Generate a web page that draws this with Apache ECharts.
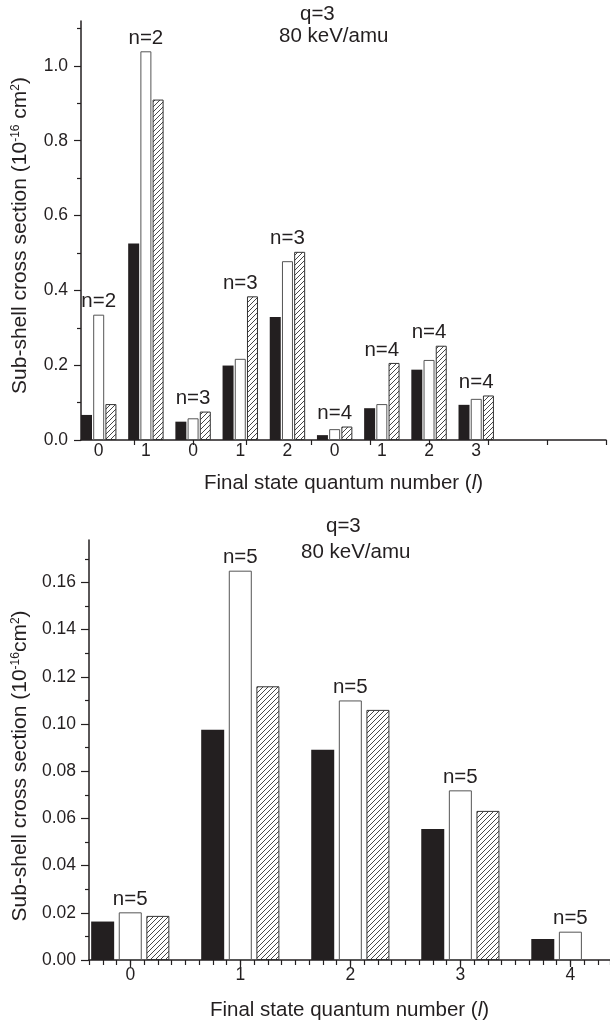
<!DOCTYPE html>
<html><head><meta charset="utf-8">
<script src="https://cdn.jsdelivr.net/npm/echarts@6/dist/echarts.min.js"></script>
<style>html,body{margin:0;padding:0;background:#fff}#c{width:610px;height:1023px}</style>
</head><body><div id="c"></div>
<script>
// ---------- Top panel (n = 2, 3, 4) ----------
const topL = ['0','1','0','1','2','0','1','2','3'];
const topN = ['n=2','n=2','n=3','n=3','n=3','n=4','n=4','n=4','n=4'];
const topX = [0.4,1.2,2.0,2.8,3.6,4.4,5.2,6.0,6.8];
const topBlack   = [0.067,0.525,0.049,0.199,0.329,0.013,0.085,0.188,0.094];
const topOpen    = [0.335,1.039,0.058,0.217,0.478,0.029,0.096,0.214,0.110];
const topHatched = [0.096,0.910,0.076,0.384,0.503,0.036,0.206,0.252,0.119];
const topXTicks  = [1,2,2.9,4,5,6,7,8,9];
const topYMajor  = [0,0.2,0.4,0.6,0.8,1.0];
const topYMinor  = [0.1,0.3,0.5,0.7,0.9,1.1];

// ---------- Bottom panel (n = 5) ----------
const botL = ['0','1','2','3','4'];
const botN = ['n=5','n=5','n=5','n=5','n=5'];
const botX = [0,1,2,3,4];
const botBlack   = [0.0163,0.0976,0.0891,0.0555,0.0089];
const botOpen    = [0.0202,0.165,0.110,0.0719,0.0120];
const botHatched = [0.0187,0.116,0.106,0.0632,null];
const botYMajor  = [0,0.02,0.04,0.06,0.08,0.10,0.12,0.14,0.16];
const botYMinor  = [0.01,0.03,0.05,0.07,0.09,0.11,0.13,0.15,0.17];

const INK = '#231f20';
const FONT = 'Liberation Sans, Arial, sans-serif';
const BIG = 20.5;

function hatchCanvas(){
  const c = document.createElement('canvas'); c.width = 5; c.height = 5;
  const g = c.getContext('2d');
  g.fillStyle = '#fff'; g.fillRect(0,0,5,5);
  g.strokeStyle = '#333'; g.lineWidth = 0.9;
  g.beginPath();
  g.moveTo(0,5); g.lineTo(5,0);
  g.moveTo(-1,1); g.lineTo(1,-1);
  g.moveTo(4,6); g.lineTo(6,4);
  g.stroke();
  return c;
}
const hatch = {image: hatchCanvas(), repeat: 'repeat'};

function idxOf(arr, v){ return arr.findIndex(a => Math.abs(a - v) < 1e-6); }
function pairs(xs, ys){ return xs.map((x,i) => [x, ys[i]]); }

const styles = [
  {color: INK, borderWidth: 0},
  {color: '#fff', borderColor: '#555', borderWidth: 1},
  {color: hatch, borderColor: '#333', borderWidth: 1}
];

function barSeries(xs, sets, xi, yi, w, gap){
  return sets.map((ys, k) => ({
    type: 'bar', xAxisIndex: xi, yAxisIndex: yi, silent: true,
    barWidth: w, barGap: gap, animation: false,
    itemStyle: styles[k],
    data: pairs(xs, ys)
  }));
}

function nSeries(xs, sets, labels, xi, yi){
  const tops = xs.map((x,i) => Math.max(...sets.map(s => s[i] == null ? 0 : s[i])));
  return {
    type: 'scatter', xAxisIndex: xi, yAxisIndex: yi, silent: true, animation: false,
    symbolSize: 1, itemStyle: {color: 'rgba(0,0,0,0)', opacity: 1},
    label: {show: true, position: 'top', distance: 2, color: INK, fontSize: BIG, fontFamily: FONT,
            formatter: p => labels[p.dataIndex]},
    data: pairs(xs, tops)
  };
}

const axisLine = {show: true, onZero: false, lineStyle: {color: INK, width: 1.5}};
const noLine = {show: false, onZero: false};
const tickStyle = {color: INK, width: 1.2};
const labelStyle = {color: INK, fontSize: 17.5, fontFamily: FONT};
const titleStyle = {fontSize: BIG, fontWeight: 'normal', color: INK, fontFamily: FONT};
const xNameStyle = {fontSize: BIG, color: INK, fontFamily: FONT,
  rich: {it: {fontSize: BIG, fontStyle: 'italic', color: INK, fontFamily: FONT}}};

const option = {
  backgroundColor: '#fff',
  animation: false,
  title: [
    {text: 'q=3', left: 300, top: 4, padding: 0, textStyle: titleStyle},
    {text: '80 keV/amu', left: 279, top: 26, padding: 0, textStyle: titleStyle},
    {text: 'q=3', left: 326, top: 516, padding: 0, textStyle: titleStyle},
    {text: '80 keV/amu', left: 301, top: 542, padding: 0, textStyle: titleStyle}
  ],
  grid: [
    {left: 81, top: 21, width: 525, height: 419},
    {left: 89, top: 540, width: 521, height: 420}
  ],
  xAxis: [
    { // top main
      type: 'value', gridIndex: 0, min: 0.1, max: 9,
      axisLine, splitLine: {show: false},
      axisTick: {show: true, inside: false, length: 5, lineStyle: tickStyle, customValues: topXTicks},
      axisLabel: Object.assign({margin: 2, customValues: topX,
        formatter: v => topL[idxOf(topX, v)]}, labelStyle),
      name: 'Final state quantum number ({it|l})', nameLocation: 'middle', nameGap: 33,
      nameTextStyle: xNameStyle
    },
    { // bottom main (minor ticks)
      type: 'value', gridIndex: 1, min: -0.375, max: 4.36, interval: 0.125,
      axisLine, splitLine: {show: false},
      axisTick: {show: true, inside: false, length: 5, lineStyle: tickStyle},
      axisLabel: Object.assign({margin: 6, customValues: botX,
        formatter: v => botL[idxOf(botX, v)]}, labelStyle),
      name: 'Final state quantum number ({it|l})', nameLocation: 'middle', nameGap: 40,
      nameTextStyle: xNameStyle
    },
    { // bottom major ticks
      type: 'value', gridIndex: 1, min: -0.375, max: 4.36, position: 'bottom',
      axisLine: noLine, splitLine: {show: false}, axisLabel: {show: false},
      axisTick: {show: true, inside: false, length: 7, lineStyle: tickStyle, customValues: botX}
    }
  ],
  yAxis: [
    { // top main
      type: 'value', gridIndex: 0, min: 0, max: 1.12,
      axisLine, splitLine: {show: false},
      axisTick: {show: true, inside: false, length: 7, lineStyle: tickStyle, customValues: topYMajor},
      axisLabel: Object.assign({margin: 13, customValues: topYMajor,
        formatter: v => v.toFixed(1)}, labelStyle),
      name: 'Sub-shell cross section (10{sup|-16} cm{sup|2})', nameLocation: 'middle', nameGap: 50,
      nameTextStyle: {fontSize: 21, color: INK, fontFamily: FONT, padding: [0, 10, 0, 0],
        rich: {sup: {fontSize: 12, verticalAlign: 'top', color: INK, fontFamily: FONT}}}
    },
    { // top minor ticks
      type: 'value', gridIndex: 0, min: 0, max: 1.12, position: 'left',
      axisLine: noLine, splitLine: {show: false}, axisLabel: {show: false},
      axisTick: {show: true, inside: false, length: 4, lineStyle: tickStyle, customValues: topYMinor}
    },
    { // bottom main
      type: 'value', gridIndex: 1, min: 0, max: 0.178,
      axisLine, splitLine: {show: false},
      axisTick: {show: true, inside: false, length: 8, lineStyle: tickStyle, customValues: botYMajor},
      axisLabel: Object.assign({margin: 13, customValues: botYMajor,
        formatter: v => v.toFixed(2)}, labelStyle),
      name: 'Sub-shell cross section (10{sup|-16}cm{sup|2})', nameLocation: 'middle', nameGap: 57,
      nameTextStyle: {fontSize: 21, color: INK, fontFamily: FONT, padding: [0, 32, 0, 0],
        rich: {sup: {fontSize: 12, verticalAlign: 'top', color: INK, fontFamily: FONT}}}
    },
    { // bottom minor ticks
      type: 'value', gridIndex: 1, min: 0, max: 0.178, position: 'left',
      axisLine: noLine, splitLine: {show: false}, axisLabel: {show: false},
      axisTick: {show: true, inside: false, length: 4, lineStyle: tickStyle, customValues: botYMinor}
    }
  ],
  series: [
    ...barSeries(topX, [topBlack, topOpen, topHatched], 0, 0, 11, '11%'),
    nSeries(topX, [topBlack, topOpen, topHatched], topN, 0, 0),
    ...barSeries(botX, [botBlack, botOpen, botHatched], 1, 2, 23, '20%'),
    nSeries(botX, [botBlack, botOpen, botHatched], botN, 1, 2)
  ]
};

const chart = echarts.init(document.getElementById('c'), null, {renderer: 'canvas'});
chart.setOption(option);
</script>
</body></html>
